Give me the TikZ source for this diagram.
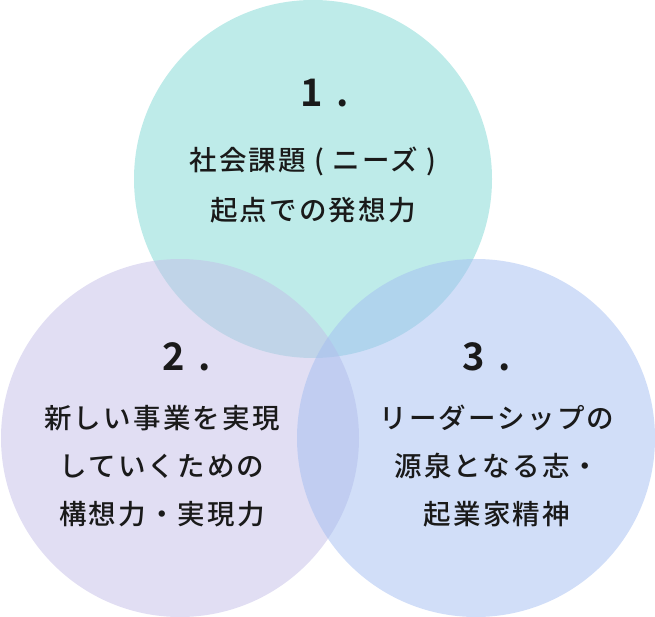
\documentclass[tikz,border=0pt]{standalone}
\usepackage{fontspec}
\newfontfamily\jp[LetterSpace=8]{Noto Sans CJK JP Medium}
\newfontfamily\jpnum[LetterSpace=35]{Noto Sans CJK JP Bold}
\definecolor{ctop}{HTML}{7DD8D3}
\definecolor{cleft}{HTML}{C3BDE7}
\definecolor{cright}{HTML}{A3BDF1}
\definecolor{txt}{HTML}{1A1A1A}
\begin{document}
\begin{tikzpicture}[x=1pt,y=-1pt,
  circ/.style={fill opacity=0.5,draw=none},
  num/.style={text=txt,font=\jpnum\fontsize{38}{38}\selectfont,inner sep=0pt,anchor=center},
  body/.style={text=txt,font=\jp\fontsize{27.5}{48}\selectfont,align=center,inner sep=0pt,anchor=center}]
\useasboundingbox (0,0) rectangle (655,617);
\fill[circ,fill=ctop] (313,179) circle (179);
\fill[circ,fill=cleft] (180,438) circle (179);
\fill[circ,fill=cright] (476,438) circle (179);
\node[num] (n1) at (325,93) {1.};
\node[body,font=\jp\fontsize{27.5}{50}\selectfont] (t1) at (313,185) {社会課題 ( ニーズ )\\起点での発想力};
\node[num] (n2) at (187,357) {2.};
\node[body] (t2) at (162,466) {新しい事業を実現\\していくための\\構想力・実現力};
\node[num] (n3) at (487,357) {3.};
\node[body] (t3) at (497,466) {リーダーシップの\\源泉となる志・\\起業家精神};
\end{tikzpicture}
\end{document}
